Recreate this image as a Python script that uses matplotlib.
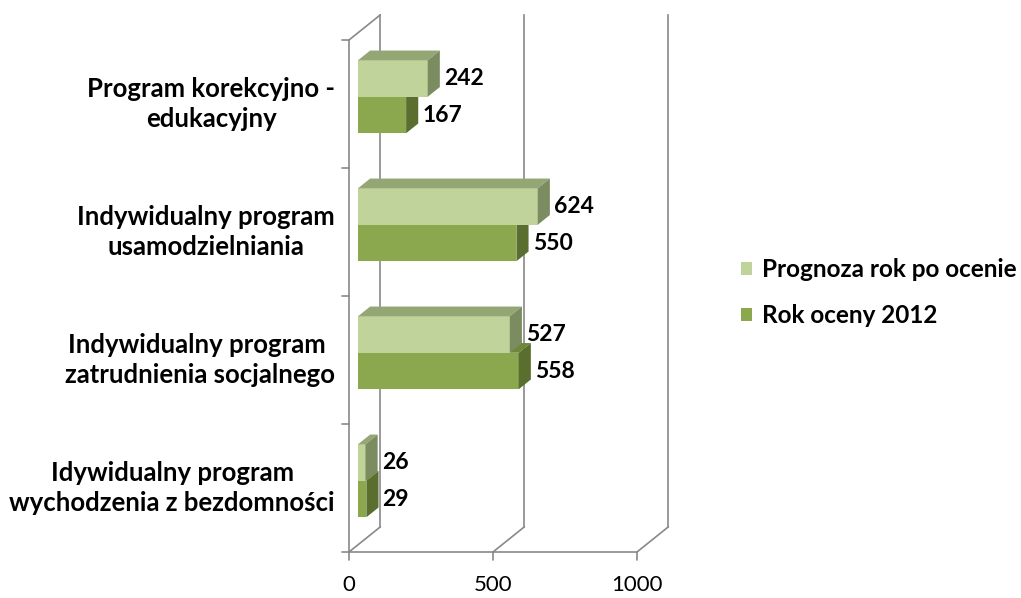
import matplotlib.pyplot as plt
from matplotlib.patches import Polygon, Patch

# categories listed bottom -> top
categories = ['Idywidualny program\nwychodzenia z bezdomności',
              'Indywidualny program \nzatrudnienia socjalnego',
              'Indywidualny program\nusamodzielniania',
              'Program korekcyjno -\nedukacyjny']
rok_2012 = [29, 558, 550, 167]
prognoza = [26, 527, 624, 242]
xticks = [0, 500, 1000]
series_names = ['Prognoza rok po ocenie', 'Rok oceny 2012']

plt.rcParams['font.family'] = ['Lato', 'DejaVu Sans']

# colours (front, top, side)
light = ('#c0d39b', '#93a673', '#7b8c60')
dark = ('#8ca84f', '#6f873d', '#5a6e2f')
grid_col = '#898989'

# fake 3d depth in data units
DX = 108.0
DY = 0.195
f0, f1 = 0.29, 0.68
h = 0.285

fig = plt.figure(figsize=(10.21, 5.98), dpi=100)
px_x = 0.288   # px per value unit
px_y = 128.0   # px per category
ax = fig.add_axes([349 / 1021, 46 / 598, 1110 * px_x / 1021, 4.2 * px_y / 598])
ax.set_xlim(0, 1110)
ax.set_ylim(0, 4.2)
ax.axis('off')

lk = dict(color=grid_col, lw=1.2, clip_on=False, zorder=1)
# walls / gridlines
for v in xticks:
    ax.plot([v + DX, v + DX], [DY, 4 + DY], **lk)
    ax.plot([v, v + DX], [0, DY], **lk)
ax.plot([0, DX], [4, 4 + DY], **lk)
ax.plot([0, 0], [0, 4], **lk)
ax.plot([0, xticks[-1]], [0, 0], **lk)

# ticks
for i in range(len(categories) + 1):
    ax.annotate('', xy=(0, i), xytext=(-7, 0), textcoords='offset pixels',
                arrowprops=dict(arrowstyle='-', color=grid_col, lw=1.2,
                                shrinkA=0, shrinkB=0))
for v in xticks:
    ax.annotate('', xy=(v, 0), xytext=(0, -8), textcoords='offset pixels',
                arrowprops=dict(arrowstyle='-', color=grid_col, lw=1.2,
                                shrinkA=0, shrinkB=0))
    ax.annotate(str(v), xy=(v, 0), xytext=(0, -33), textcoords='offset pixels',
                ha='center', va='center', fontsize=16, color='black')


def bar3d(val, y0, cols):
    x0 = f0 * DX
    yb = y0 + f0 * DY
    ddx = (f1 - f0) * DX
    ddy = (f1 - f0) * DY
    front = [(x0, yb), (x0 + val, yb), (x0 + val, yb + h), (x0, yb + h)]
    top = [(x0, yb + h), (x0 + val, yb + h), (x0 + val + ddx, yb + h + ddy),
           (x0 + ddx, yb + h + ddy)]
    side = [(x0 + val, yb), (x0 + val + ddx, yb + ddy),
            (x0 + val + ddx, yb + h + ddy), (x0 + val, yb + h)]
    for pts, c in zip([front, top, side], cols):
        ax.add_patch(Polygon(pts, closed=True, facecolor=c, edgecolor='none',
                             zorder=3, clip_on=False))
    ax.annotate(str(val), xy=(x0 + val + ddx, yb + h / 2), xytext=(4, 0),
                textcoords='offset pixels', ha='left', va='center',
                fontsize=16.5, fontweight='bold', zorder=5)


for i, cat in enumerate(categories):
    c = i + 0.5
    bar3d(rok_2012[i], c - h, dark)
    bar3d(prognoza[i], c, light)
    ax.annotate(cat, xy=(0, c), xytext=(-14, 0), textcoords='offset pixels',
                ha='right', va='center', multialignment='center',
                fontsize=18.5, fontweight='bold', linespacing=1.3)

handles = [Patch(facecolor=light[0]), Patch(facecolor=dark[0])]
fig.legend(handles, series_names, loc='center left',
           bbox_to_anchor=(741 / 1021, 1 - 292.5 / 598), frameon=False,
           prop=dict(size=17.5, weight='bold'), handlelength=0.45,
           handleheight=0.45, handletextpad=0.4, labelspacing=0.93,
           borderpad=0, borderaxespad=0)

fig.savefig('out.png', dpi=100)
